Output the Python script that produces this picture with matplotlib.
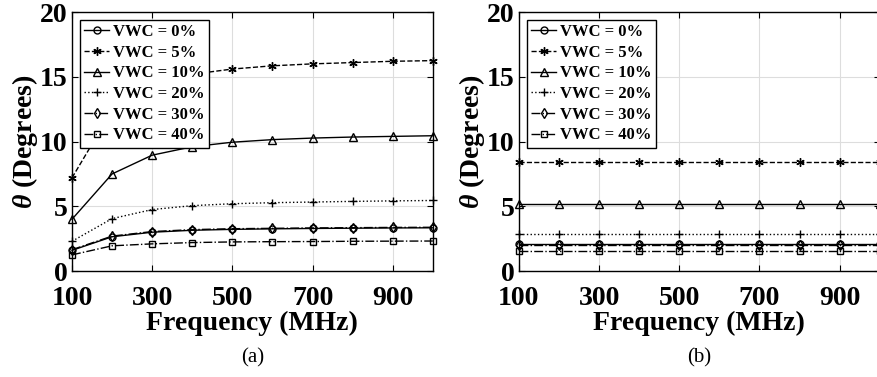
import matplotlib
matplotlib.use('Agg')
import matplotlib.pyplot as plt

plt.rcParams['font.family'] = 'Liberation Serif'
plt.rcParams['font.weight'] = 'bold'
plt.rcParams['mathtext.fontset'] = 'custom'
plt.rcParams['mathtext.it'] = 'Liberation Serif:italic'

freq = [100, 200, 300, 400, 500, 600, 700, 800, 900, 1000]
labels = ['VWC = 0%', 'VWC = 5%', 'VWC = 10%', 'VWC = 20%', 'VWC = 30%', 'VWC = 40%']

# panel (a)
a_vwc0 = [1.6, 2.65, 3.0, 3.15, 3.22, 3.26, 3.29, 3.31, 3.33, 3.34]
a_vwc5 = [7.2, 12.4, 14.3, 15.2, 15.6, 15.85, 16.0, 16.1, 16.2, 16.25]
a_vwc10 = [4.0, 7.5, 8.95, 9.6, 9.95, 10.15, 10.27, 10.35, 10.4, 10.45]
a_vwc20 = [2.3, 4.05, 4.75, 5.05, 5.2, 5.28, 5.33, 5.38, 5.42, 5.45]
a_vwc30 = [1.65, 2.7, 3.05, 3.2, 3.27, 3.3, 3.33, 3.35, 3.37, 3.38]
a_vwc40 = [1.25, 1.95, 2.1, 2.2, 2.25, 2.27, 2.28, 2.3, 2.31, 2.32]

# panel (b)
b_vwc0 = [2.1] * 10
b_vwc5 = [8.4] * 10
b_vwc10 = [5.2] * 10
b_vwc20 = [2.9] * 10
b_vwc30 = [2.0] * 10
b_vwc40 = [1.55] * 10

asterisk = (6, 2, 0)
styles = [('-', 'o', 5), ('--', asterisk, 6), ('-', '^', 6), (':', '+', 6),
          ('-.', 'd', 5), ('-.', 's', 4.5)]

fig = plt.figure(figsize=(8.78, 3.77), dpi=100)
ax1 = fig.add_axes([0.082, 0.281, 0.411, 0.687])
ax2 = fig.add_axes([0.591, 0.281, 0.411, 0.687])

panels = [(ax1, [a_vwc0, a_vwc5, a_vwc10, a_vwc20, a_vwc30, a_vwc40], '(a)'),
          (ax2, [b_vwc0, b_vwc5, b_vwc10, b_vwc20, b_vwc30, b_vwc40], '(b)')]

for ax, series, cap in panels:
    for vals, lab, (ls, mk, ms) in zip(series, labels, styles):
        ax.plot(freq, vals, color='k', linestyle=ls, marker=mk, markersize=ms,
                markerfacecolor='none', markeredgecolor='k', linewidth=1, label=lab,
                clip_on=False)
    ax.set_xlim(100, 1000)
    ax.set_ylim(0, 20)
    ax.set_xticks([100, 300, 500, 700, 900])
    ax.set_yticks([0, 5, 10, 15, 20])
    ax.grid(True, color='#dddddd', linewidth=0.8)
    ax.set_axisbelow(True)
    ax.tick_params(direction='in', top=True, right=True, labelsize=20, length=4)
    ax.tick_params(axis='x', pad=11)
    ax.tick_params(axis='y', pad=3)
    for t in ax.get_xticklabels() + ax.get_yticklabels():
        t.set_fontweight('bold')
    for s in ax.spines.values():
        s.set_linewidth(1)
    ax.set_xlabel('Frequency (MHz)', fontsize=20, fontweight='bold', labelpad=0)
    ax.set_ylabel(r'$\theta$ (Degrees)', fontsize=20, fontweight='bold', labelpad=0)
    leg = ax.legend(loc='upper left', fontsize=12, frameon=True, fancybox=False,
                    handlelength=1.5, handletextpad=0.25, borderpad=0.25,
                    labelspacing=0.28, borderaxespad=0.0, bbox_to_anchor=(0.022, 0.97))
    leg.get_frame().set_edgecolor('k')
    leg.get_frame().set_linewidth(1)
    leg.get_frame().set_alpha(1)
    for t in leg.get_texts():
        t.set_fontweight('bold')
    ax.text(0.5, -0.336, cap, transform=ax.transAxes, ha='center', va='center',
            fontsize=15, fontweight='normal')

fig.savefig('out.png', dpi=100)
